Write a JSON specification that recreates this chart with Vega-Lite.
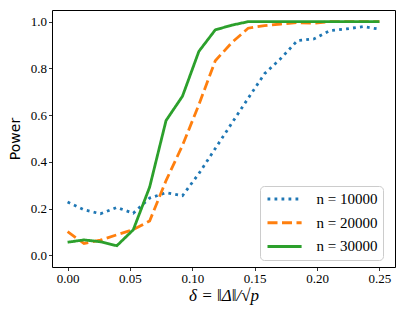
{
  "$schema": "https://vega.github.io/schema/vega-lite/v6.json",
  "width": 343,
  "height": 257,
  "autosize": {"type": "none"},
  "padding": {"left": 52, "top": 10, "right": 12, "bottom": 51},
  "background": "white",
  "config": {
    "font": "Liberation Serif",
    "view": {"stroke": "black", "strokeWidth": 1},
    "axis": {
      "domain": false, "grid": false, "ticks": true, "tickColor": "black", "tickSize": 3.5, "tickWidth": 0.8,
      "labelColor": "black", "labelFont": "Liberation Serif", "labelFontSize": 13, "labelPadding": 2,
      "titleColor": "black", "titleFontWeight": "normal"
    },
    "legend": {
      "orient": "none", "legendX": 208, "legendY": 176, "fillColor": "white", "strokeColor": "#cccccc",
      "cornerRadius": 4, "padding": 5.5, "symbolType": "M-1,0H5.2", "symbolSize": 121, "symbolStrokeWidth": 3,
      "labelFont": "Liberation Serif", "labelFontSize": 15, "labelColor": "black", "rowPadding": 7.7, "labelOffset": 36
    }
  },
  "data": {"values": [
    {"x": 0, "n": "n = 10000", "p": 0.228},
    {"x": 0.013158, "n": "n = 10000", "p": 0.195},
    {"x": 0.026316, "n": "n = 10000", "p": 0.178},
    {"x": 0.039474, "n": "n = 10000", "p": 0.205},
    {"x": 0.052632, "n": "n = 10000", "p": 0.18},
    {"x": 0.065789, "n": "n = 10000", "p": 0.245},
    {"x": 0.078947, "n": "n = 10000", "p": 0.268},
    {"x": 0.092105, "n": "n = 10000", "p": 0.255},
    {"x": 0.105263, "n": "n = 10000", "p": 0.35},
    {"x": 0.118421, "n": "n = 10000", "p": 0.457},
    {"x": 0.131579, "n": "n = 10000", "p": 0.565},
    {"x": 0.144737, "n": "n = 10000", "p": 0.672},
    {"x": 0.157895, "n": "n = 10000", "p": 0.777},
    {"x": 0.171053, "n": "n = 10000", "p": 0.843},
    {"x": 0.184211, "n": "n = 10000", "p": 0.919},
    {"x": 0.197368, "n": "n = 10000", "p": 0.926},
    {"x": 0.210526, "n": "n = 10000", "p": 0.962},
    {"x": 0.223684, "n": "n = 10000", "p": 0.969},
    {"x": 0.236842, "n": "n = 10000", "p": 0.979},
    {"x": 0.25, "n": "n = 10000", "p": 0.968},
    {"x": 0, "n": "n = 20000", "p": 0.101},
    {"x": 0.013158, "n": "n = 20000", "p": 0.051},
    {"x": 0.026316, "n": "n = 20000", "p": 0.065},
    {"x": 0.039474, "n": "n = 20000", "p": 0.088},
    {"x": 0.052632, "n": "n = 20000", "p": 0.11},
    {"x": 0.065789, "n": "n = 20000", "p": 0.147},
    {"x": 0.078947, "n": "n = 20000", "p": 0.32},
    {"x": 0.092105, "n": "n = 20000", "p": 0.47},
    {"x": 0.105263, "n": "n = 20000", "p": 0.645},
    {"x": 0.118421, "n": "n = 20000", "p": 0.833},
    {"x": 0.131579, "n": "n = 20000", "p": 0.91},
    {"x": 0.144737, "n": "n = 20000", "p": 0.972},
    {"x": 0.157895, "n": "n = 20000", "p": 0.983},
    {"x": 0.171053, "n": "n = 20000", "p": 0.99},
    {"x": 0.184211, "n": "n = 20000", "p": 0.996},
    {"x": 0.197368, "n": "n = 20000", "p": 0.993},
    {"x": 0.210526, "n": "n = 20000", "p": 1.0},
    {"x": 0.223684, "n": "n = 20000", "p": 1.0},
    {"x": 0.236842, "n": "n = 20000", "p": 1.0},
    {"x": 0.25, "n": "n = 20000", "p": 1.0},
    {"x": 0, "n": "n = 30000", "p": 0.056},
    {"x": 0.013158, "n": "n = 30000", "p": 0.066},
    {"x": 0.026316, "n": "n = 30000", "p": 0.058},
    {"x": 0.039474, "n": "n = 30000", "p": 0.041},
    {"x": 0.052632, "n": "n = 30000", "p": 0.109},
    {"x": 0.065789, "n": "n = 30000", "p": 0.292},
    {"x": 0.078947, "n": "n = 30000", "p": 0.577},
    {"x": 0.092105, "n": "n = 30000", "p": 0.681},
    {"x": 0.105263, "n": "n = 30000", "p": 0.873},
    {"x": 0.118421, "n": "n = 30000", "p": 0.965},
    {"x": 0.131579, "n": "n = 30000", "p": 0.985},
    {"x": 0.144737, "n": "n = 30000", "p": 1.0},
    {"x": 0.157895, "n": "n = 30000", "p": 1.0},
    {"x": 0.171053, "n": "n = 30000", "p": 1.0},
    {"x": 0.184211, "n": "n = 30000", "p": 1.0},
    {"x": 0.197368, "n": "n = 30000", "p": 1.0},
    {"x": 0.210526, "n": "n = 30000", "p": 1.0},
    {"x": 0.223684, "n": "n = 30000", "p": 1.0},
    {"x": 0.236842, "n": "n = 30000", "p": 1.0},
    {"x": 0.25, "n": "n = 30000", "p": 1.0}
  ]},
  "mark": {"type": "line", "strokeWidth": 2.8, "clip": true},
  "encoding": {
    "x": {
      "field": "x", "type": "quantitative",
      "scale": {"domain": [-0.0125, 0.2625], "nice": false, "zero": false},
      "axis": {"values": [0, 0.05, 0.1, 0.15, 0.2, 0.25], "format": ".2f", "title": "δ = ‖Δ‖/√p",
        "labelFont": "Liberation Serif",
        "titleFont": "Liberation Serif", "titleFontSize": 17, "titleFontStyle": "italic", "titlePadding": 2}
    },
    "y": {
      "field": "p", "type": "quantitative",
      "scale": {"domain": [-0.05, 1.05], "nice": false, "zero": false},
      "axis": {"values": [0, 0.2, 0.4, 0.6, 0.8, 1.0], "format": ".1f", "title": "Power",
        "labelFont": "Liberation Serif",
        "titleFont": "DejaVu Sans", "titleFontSize": 14, "titlePadding": 8}
    },
    "color": {
      "field": "n", "type": "nominal", "title": null,
      "scale": {"domain": ["n = 10000", "n = 20000", "n = 30000"], "range": ["#1f77b4", "#ff7f0e", "#2ca02c"]}
    },
    "strokeDash": {
      "field": "n", "type": "nominal", "title": null,
      "scale": {"domain": ["n = 10000", "n = 20000", "n = 30000"], "range": [[2.8, 4.2], [10, 4.5], [1, 0]]}
    },
    "order": {"field": "x", "type": "quantitative"}
  }
}
